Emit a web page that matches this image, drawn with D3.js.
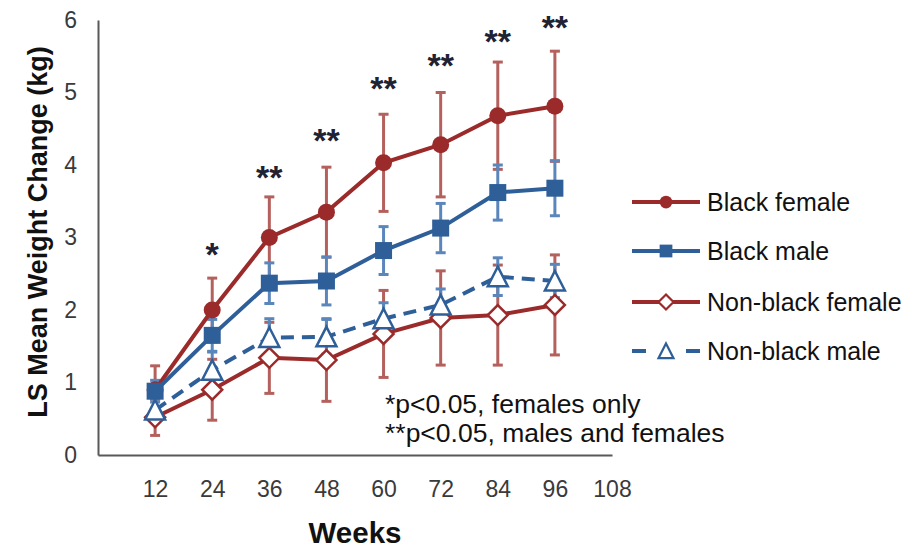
<!DOCTYPE html>
<html>
<head>
<meta charset="utf-8">
<script src="https://cdn.jsdelivr.net/npm/d3@7"></script>
<style>
  body { margin: 0; background: #fff; }
  svg { display: block; }
  text { font-family: "Liberation Sans", Arial, sans-serif; }
</style>
</head>
<body>
<svg id="chart" width="907" height="550"></svg>
<script>
// Weeks on study and least-squares mean weight change (kg) with error bars
const weeks = [12, 24, 36, 48, 60, 72, 84, 96];
const weekTicks = [12, 24, 36, 48, 60, 72, 84, 96, 108];
const kgTicks = [0, 1, 2, 3, 4, 5, 6];

const blackFemale    = [0.90, 2.00, 3.00, 3.35, 4.03, 4.28, 4.68, 4.81];
const blackFemaleErr = [0.33, 0.44, 0.56, 0.62, 0.67, 0.72, 0.74, 0.76];
const blackMale      = [0.88, 1.65, 2.37, 2.40, 2.82, 3.13, 3.62, 3.68];
const blackMaleErr   = [0.15, 0.22, 0.28, 0.33, 0.33, 0.34, 0.38, 0.38];
const nonBlackFemale    = [0.52, 0.90, 1.34, 1.31, 1.67, 1.89, 1.93, 2.07];
const nonBlackFemaleErr = [0.25, 0.42, 0.49, 0.57, 0.60, 0.65, 0.69, 0.69];
const nonBlackMale      = [0.62, 1.17, 1.62, 1.63, 1.88, 2.07, 2.46, 2.40];
const nonBlackMaleErr   = [0.15, 0.25, 0.26, 0.24, 0.22, 0.22, 0.26, 0.23];

// Significance markers above each week (label and height in kg)
const sigLabels  = ["", "*", "**", "**", "**", "**", "**", "**"];
const sigHeights = [0, 2.88, 3.94, 4.46, 5.17, 5.49, 5.82, 6.01];

const noteLines = ["*p<0.05, females only", "**p<0.05, males and females"];

const RED = "#9b2b2a", BLUE = "#2f5f99";
const RED_ERR = "#b4605d", BLUE_ERR = "#5a86bb";

const series = [
  { name: "Black female",     values: blackFemale,    err: blackFemaleErr,    color: RED,  errColor: RED_ERR,  marker: "circle",   filled: true,  dash: null },
  { name: "Black male",       values: blackMale,      err: blackMaleErr,      color: BLUE, errColor: BLUE_ERR, marker: "square",   filled: true,  dash: null },
  { name: "Non-black female", values: nonBlackFemale, err: nonBlackFemaleErr, color: RED,  errColor: RED_ERR,  marker: "diamond",  filled: false, dash: null },
  { name: "Non-black male",   values: nonBlackMale,   err: nonBlackMaleErr,   color: BLUE, errColor: BLUE_ERR, marker: "triangle", filled: false, dash: "13,8" }
];

const svg = d3.select("#chart");
const x = d3.scaleLinear().domain([0, 108]).range([98, 612]);
const y = d3.scaleLinear().domain([0, 6]).range([455, 20]);

// Axes
const xAxis = svg.append("g").attr("transform", `translate(0,${y(0)})`)
  .call(d3.axisBottom(x).tickValues(weekTicks).tickFormat(d3.format("d"))
    .tickSize(0).tickSizeOuter(0).tickPadding(26));
const yAxis = svg.append("g").attr("transform", `translate(${x(0)},0)`)
  .call(d3.axisLeft(y).tickValues(kgTicks).tickFormat(d3.format("d"))
    .tickSize(0).tickSizeOuter(0).tickPadding(21));
[xAxis, yAxis].forEach(g => {
  g.select(".domain").attr("stroke", "#595959").attr("stroke-width", 2);
  g.selectAll("text").attr("font-size", 23).attr("fill", "#3a3a3a")
    .attr("font-family", "'Liberation Sans', Arial, sans-serif");
});

// Axis titles
svg.append("text")
  .attr("transform", `translate(47,232) rotate(-90)`)
  .attr("text-anchor", "middle")
  .attr("font-size", 27).attr("font-weight", "bold").attr("fill", "#111")
  .text("LS Mean Weight Change (kg)");
svg.append("text")
  .attr("x", 355).attr("y", 543)
  .attr("text-anchor", "middle")
  .attr("font-size", 29.5).attr("font-weight", "bold").attr("fill", "#111")
  .text("Weeks");

// Marker shapes
function markerPath(type, s) {
  if (type === "circle") return d3.symbol(d3.symbolCircle, Math.PI * s * s)();
  if (type === "square") return `M${-s},${-s}H${s}V${s}H${-s}Z`;
  if (type === "diamond") return `M0,${-s}L${s},0L0,${s}L${-s},0Z`;
  return `M0,${-s}L${s},${s * 0.95}L${-s},${s * 0.95}Z`;
}
const markerSize = { circle: 8.5, square: 8.5, diamond: 10, triangle: 10 };

const plot = svg.append("g");

// Error bars
series.forEach(s => {
  const g = plot.append("g").attr("stroke", s.errColor).attr("stroke-width", 3).attr("fill", "none");
  weeks.forEach((w, i) => {
    const cx = x(w), hi = y(s.values[i] + s.err[i]), lo = y(s.values[i] - s.err[i]);
    g.append("line").attr("x1", cx).attr("x2", cx).attr("y1", hi).attr("y2", lo);
    g.append("line").attr("x1", cx - 5).attr("x2", cx + 5).attr("y1", hi).attr("y2", hi);
    g.append("line").attr("x1", cx - 5).attr("x2", cx + 5).attr("y1", lo).attr("y2", lo);
  });
});

// Lines and markers
const line = d3.line().x((d, i) => x(weeks[i])).y(d => y(d));
series.forEach(s => {
  plot.append("path").datum(s.values)
    .attr("d", line).attr("fill", "none")
    .attr("stroke", s.color).attr("stroke-width", 4)
    .attr("stroke-dasharray", s.dash);
});
series.forEach(s => {
  plot.append("g").selectAll("path").data(s.values).join("path")
    .attr("transform", (d, i) => `translate(${x(weeks[i])},${y(d)})`)
    .attr("d", markerPath(s.marker, markerSize[s.marker]))
    .attr("fill", s.filled ? s.color : "#fff")
    .attr("stroke", s.color).attr("stroke-width", s.filled ? 0 : 2.5);
});

// Significance asterisks
svg.append("g").selectAll("text").data(weeks).join("text")
  .attr("x", w => x(w))
  .attr("y", (w, i) => y(sigHeights[i]) + 20)
  .attr("text-anchor", "middle")
  .attr("font-size", 34).attr("font-weight", "bold").attr("fill", "#1f2233")
  .text((w, i) => sigLabels[i]);

// Footnote
svg.append("g").selectAll("text").data(noteLines).join("text")
  .attr("x", 385).attr("y", (d, i) => 413 + i * 29)
  .attr("font-size", 26.5).attr("fill", "#111")
  .text(d => d);

// Legend
const legend = svg.append("g");
const legendY = [202, 251, 302, 351];
series.forEach((s, i) => {
  const g = legend.append("g").attr("transform", `translate(0,${legendY[i]})`);
  if (s.dash) {
    g.append("line").attr("x1", 632).attr("x2", 646).attr("y1", 0).attr("y2", 0)
      .attr("stroke", s.color).attr("stroke-width", 4);
    g.append("line").attr("x1", 686).attr("x2", 700).attr("y1", 0).attr("y2", 0)
      .attr("stroke", s.color).attr("stroke-width", 4);
  } else {
    g.append("line").attr("x1", 632).attr("x2", 700).attr("y1", 0).attr("y2", 0)
      .attr("stroke", s.color).attr("stroke-width", 4);
  }
  g.append("path").attr("transform", "translate(666,0)")
    .attr("d", markerPath(s.marker, markerSize[s.marker] * 0.75))
    .attr("fill", s.filled ? s.color : "#fff")
    .attr("stroke", s.color).attr("stroke-width", s.filled ? 0 : 2.2);
  g.append("text").attr("x", 707).attr("y", 0).attr("dy", "0.35em")
    .attr("font-size", 25).attr("fill", "#111").text(s.name);
});
</script>
</body>
</html>
